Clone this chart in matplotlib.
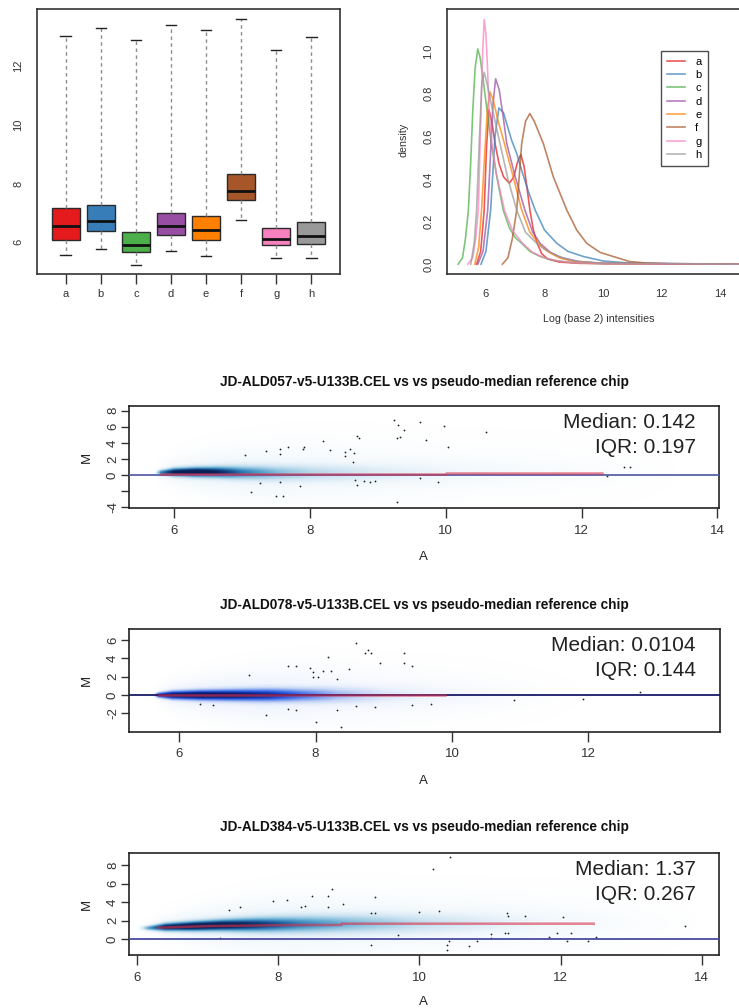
import numpy as np
import matplotlib
matplotlib.use("Agg")
import matplotlib.pyplot as plt
from matplotlib.colors import LinearSegmentedColormap

# ---------------- data ----------------
samples = ["a", "b", "c", "d", "e", "f", "g", "h"]
set1 = ["#E41A1C", "#377EB8", "#4DAF4A", "#984EA3", "#FF7F00", "#A65628", "#F781BF", "#999999"]

box_whislo = [5.57, 5.76, 5.24, 5.69, 5.54, 6.75, 5.48, 5.48]
box_q1 = [6.09, 6.37, 5.66, 6.24, 6.09, 7.42, 5.89, 5.93]
box_med = [6.54, 6.72, 5.92, 6.54, 6.41, 7.75, 6.11, 6.20]
box_q3 = [7.15, 7.26, 6.35, 7.01, 6.89, 8.31, 6.48, 6.68]
box_whishi = [13.01, 13.27, 12.87, 13.37, 13.20, 13.59, 12.52, 12.97]

dens_x_a = [5.68, 5.82, 5.94, 6.02, 6.10, 6.2, 6.31, 6.45, 6.6, 6.8, 6.95, 7.08, 7.19, 7.3, 7.4, 7.5, 7.62, 7.75, 7.9, 8.1, 8.5, 9.2, 15.3]
dens_y_a = [0.0, 0.06, 0.254, 0.55, 0.725, 0.67, 0.566, 0.47, 0.41, 0.38, 0.41, 0.48, 0.515, 0.46, 0.36, 0.254, 0.16, 0.098, 0.05, 0.025, 0.01, 0.004, 0.0]
dens_x_b = [5.83, 6.0, 6.16, 6.31, 6.44, 6.6, 6.88, 7.05, 7.22, 7.45, 7.68, 8.0, 8.42, 8.8, 9.33, 10.0, 11.0, 15.3]
dens_y_b = [0.0, 0.06, 0.254, 0.6, 0.733, 0.71, 0.58, 0.52, 0.44, 0.34, 0.254, 0.16, 0.098, 0.06, 0.036, 0.015, 0.004, 0.0]
dens_x_c = [5.05, 5.2, 5.3, 5.4, 5.48, 5.55, 5.63, 5.72, 5.8, 5.9, 6.04, 6.2, 6.37, 6.59, 6.8, 7.0, 7.22, 7.5, 7.85, 8.3, 9.0, 10.0, 15.3]
dens_y_c = [0.0, 0.03, 0.12, 0.254, 0.48, 0.72, 0.92, 1.01, 0.97, 0.87, 0.72, 0.55, 0.41, 0.254, 0.17, 0.125, 0.098, 0.06, 0.036, 0.018, 0.007, 0.002, 0.0]
dens_x_d = [5.72, 5.9, 6.06, 6.15, 6.24, 6.33, 6.45, 6.58, 6.71, 7.0, 7.33, 7.6, 7.85, 8.2, 8.6, 9.2, 10.0, 15.3]
dens_y_d = [0.0, 0.06, 0.254, 0.5, 0.75, 0.87, 0.82, 0.7, 0.566, 0.41, 0.254, 0.15, 0.098, 0.055, 0.03, 0.012, 0.004, 0.0]
dens_x_e = [5.62, 5.75, 5.85, 5.95, 6.05, 6.14, 6.25, 6.4, 6.63, 6.93, 7.22, 7.5, 7.79, 8.1, 8.5, 9.0, 10.0, 15.3]
dens_y_e = [0.0, 0.08, 0.254, 0.5, 0.73, 0.808, 0.77, 0.68, 0.566, 0.41, 0.254, 0.15, 0.098, 0.06, 0.03, 0.013, 0.003, 0.0]
dens_x_f = [6.56, 6.75, 6.9, 7.05, 7.22, 7.35, 7.50, 7.65, 7.8, 7.96, 8.3, 8.76, 9.1, 9.44, 9.9, 10.35, 10.9, 11.5, 12.5, 15.3]
dens_y_f = [0.0, 0.03, 0.12, 0.254, 0.566, 0.67, 0.707, 0.67, 0.62, 0.566, 0.41, 0.254, 0.16, 0.098, 0.055, 0.036, 0.0125, 0.005, 0.001, 0.0]
dens_x_g = [5.38, 5.55, 5.65, 5.74, 5.83, 5.89, 5.94, 6.0, 6.05, 6.11, 6.2, 6.35, 6.63, 6.9, 7.25, 7.6, 8.0, 8.5, 9.0, 10.0, 15.3]
dens_y_g = [0.0, 0.03, 0.12, 0.254, 0.72, 1.0, 1.148, 1.08, 0.93, 0.72, 0.57, 0.43, 0.254, 0.16, 0.098, 0.055, 0.03, 0.014, 0.007, 0.002, 0.0]
dens_x_h = [5.48, 5.6, 5.68, 5.78, 5.86, 5.94, 6.05, 6.2, 6.48, 6.75, 7.05, 7.35, 7.73, 8.0, 8.5, 9.0, 10.0, 15.3]
dens_y_h = [0.0, 0.1, 0.254, 0.6, 0.85, 0.90, 0.84, 0.74, 0.566, 0.4, 0.254, 0.15, 0.098, 0.07, 0.035, 0.015, 0.004, 0.0]

# MA plot 1 (JD-ALD057)
ma1_title = "JD-ALD057-v5-U133B.CEL vs vs pseudo-median reference chip"
ma1_median, ma1_iqr = "0.142", "0.197"
ma1_knot_A = [5.7, 5.8, 6.0, 6.3, 6.6, 7.0, 7.5, 8.0, 9.0, 10.0, 11.0, 12.5, 13.5]
ma1_center = [0.2, 0.25, 0.3, 0.3, 0.3, 0.25, 0.2, 0.2, 0.2, 0.25, 0.3, 0.3, 0.3]
ma1_core_int = [0.0, 0.6, 0.9, 1.0, 0.85, 0.55, 0.35, 0.25, 0.15, 0.1, 0.05, 0.02, 0.0]
ma1_core_sd = [0.15, 0.25, 0.35, 0.4, 0.45, 0.55, 0.65, 0.75, 0.9, 1.0, 1.0, 1.0, 1.0]
ma1_halo_int = [0.0, 0.07, 0.13, 0.16, 0.16, 0.16, 0.14, 0.11, 0.08, 0.05, 0.04, 0.015, 0.0]
ma1_halo_sd = [0.5, 0.8, 1.2, 1.5, 1.8, 2.0, 2.3, 2.5, 2.5, 2.5, 2.5, 2.5, 2.5]
ma1_loess_A = [5.8, 10.0, 10.0, 12.3]
ma1_loess_M = [0.08, 0.08, 0.29, 0.29]
ma1_pts_A = [7.05, 7.13, 7.27, 7.35, 7.5, 7.56, 7.56, 7.56, 7.6, 7.67, 7.85, 7.9, 7.92, 8.2, 8.3, 8.52, 8.52,
             8.59, 8.64, 8.65, 8.69, 8.72, 8.67, 8.69, 8.79, 8.89, 8.96, 9.24, 9.3, 9.29, 9.29, 9.38, 9.33,
             9.62, 9.71, 9.97, 10.03, 10.6, 9.62, 9.89, 12.62, 12.72, 12.37]
ma1_pts_M = [2.48, -2.07, -1.03, 2.98, -2.6, 3.23, 2.6, -0.9, -2.6, 3.48, -1.37, 3.2, 3.5, 4.27, 3.1, 2.85, 2.36,
             3.2, 1.57, 2.8, 4.9, 4.55, -0.6, -1.24, -0.75, -0.87, -0.75, 6.83, 6.2, 4.64, -3.3, 5.6, 4.76,
             6.6, 4.35, 6.09, 3.44, 5.38, -0.41, -0.83, 1.03, 1.03, -0.12]

# MA plot 2 (JD-ALD078)
ma2_title = "JD-ALD078-v5-U133B.CEL vs vs pseudo-median reference chip"
ma2_median, ma2_iqr = "0.0104", "0.144"
ma2_knot_A = [5.6, 5.7, 5.9, 6.3, 6.8, 7.3, 7.8, 8.3, 9.0, 10.0, 11.0, 12.0]
ma2_center = [0.0, 0.0, 0.0, 0.0, 0.0, 0.0, 0.0, 0.0, 0.0, 0.0, 0.0, 0.0]
ma2_core_int = [0.0, 0.8, 0.95, 1.0, 0.9, 0.75, 0.5, 0.3, 0.15, 0.06, 0.02, 0.0]
ma2_core_sd = [0.1, 0.2, 0.3, 0.35, 0.4, 0.45, 0.5, 0.6, 0.7, 0.8, 0.8, 0.8]
ma2_halo_int = [0.0, 0.07, 0.13, 0.16, 0.16, 0.16, 0.13, 0.1, 0.07, 0.04, 0.015, 0.0]
ma2_halo_sd = [0.3, 0.6, 1.0, 1.3, 1.6, 1.8, 2.0, 2.0, 2.0, 2.0, 2.0, 2.0]
ma2_loess_A = [5.7, 9.9]
ma2_loess_M = [0.04, 0.04]
ma2_pts_A = [7.03, 6.3, 6.5, 7.28, 7.6, 7.71, 7.6, 7.71, 7.92, 7.97, 7.97, 8.03, 8.0, 8.11, 8.19, 8.22, 8.31,
             8.31, 8.38, 8.49, 8.6, 8.6, 8.72, 8.77, 8.81, 8.87, 8.94, 9.29, 9.29, 9.41, 9.41, 9.7, 10.91, 11.92, 12.75]
ma2_pts_M = [2.15, -0.98, -1.09, -2.18, 3.16, 3.16, -1.5, -1.6, 2.9, 2.54, 2.0, 2.0, -2.9, 2.65, 4.18, 2.65, 1.71,
             -1.6, -3.45, 2.8, 5.7, -1.2, 4.55, 4.9, 4.55, -1.27, 3.45, 4.55, 3.45, 3.16, -1.09, -0.98, -0.55, -0.44, 0.36]

# MA plot 3 (JD-ALD384)
ma3_title = "JD-ALD384-v5-U133B.CEL vs vs pseudo-median reference chip"
ma3_median, ma3_iqr = "1.37", "0.267"
ma3_knot_A = [6.0, 6.15, 6.4, 6.8, 7.2, 7.7, 8.3, 9.0, 10.0, 11.0, 12.0, 13.0, 14.0]
ma3_center = [1.2, 1.2, 1.3, 1.4, 1.5, 1.55, 1.6, 1.65, 1.7, 1.75, 1.75, 1.75, 1.75]
ma3_core_int = [0.0, 0.5, 0.9, 1.0, 0.95, 0.75, 0.5, 0.35, 0.2, 0.12, 0.06, 0.02, 0.0]
ma3_core_sd = [0.15, 0.2, 0.3, 0.35, 0.4, 0.5, 0.6, 0.7, 0.8, 0.9, 0.9, 0.9, 0.9]
ma3_halo_int = [0.0, 0.05, 0.13, 0.18, 0.19, 0.19, 0.18, 0.15, 0.12, 0.09, 0.06, 0.025, 0.0]
ma3_halo_sd = [0.3, 0.5, 0.9, 1.2, 1.5, 1.8, 2.0, 2.0, 2.0, 2.0, 2.0, 2.0, 2.0]
ma3_loess_A = [6.3, 7.0, 8.0, 8.9, 8.9, 12.47]
ma3_loess_M = [1.25, 1.42, 1.52, 1.55, 1.68, 1.68]
ma3_pts_A = [7.17, 7.3, 7.46, 7.93, 8.13, 8.32, 8.38, 8.48, 8.71, 8.76, 8.71, 8.92, 9.32, 9.37, 9.37, 9.32, 9.7,
             10.43, 10.2, 10.0, 10.28, 10.42, 10.39, 10.39, 10.7, 10.82, 11.02, 11.02, 11.24, 11.26, 11.5, 11.21,
             11.26, 11.84, 11.95, 12.03, 12.09, 12.15, 12.39, 12.5, 13.76]
ma3_pts_M = [0.1, 3.15, 3.44, 4.16, 4.23, 3.5, 3.6, 4.66, 4.66, 5.45, 3.44, 3.77, 2.87, 2.87, 4.52, -0.61, 0.46,
             8.9, 7.6, 2.97, 3.08, -0.15, -0.61, -1.15, -0.69, -0.15, 0.54, 0.1, 2.86, 2.5, 2.5, 0.7,
             0.65, 0.28, 0.7, 2.43, -0.18, 0.65, -0.15, 0.28, 1.43]

# ---------------- figure ----------------
W, H = 739, 1008
fig = plt.figure(figsize=(W / 100, H / 100), dpi=100)
SANS = ["Liberation Sans", "DejaVu Sans"]
plt.rcParams["font.family"] = SANS


def px_axes(l, t, r, b):
    return fig.add_axes([l / W, 1 - b / H, (r - l) / W, (b - t) / H])


def ftext(x, y, s, **kw):
    fig.text(x / W, 1 - y / H, s, **kw)


# ---- boxplot ----
axb = px_axes(37, 9, 340, 274)
stats = []
for i in range(len(samples)):
    stats.append(dict(med=box_med[i], q1=box_q1[i], q3=box_q3[i],
                      whislo=box_whislo[i], whishi=box_whishi[i], fliers=[]))
bp = axb.bxp(stats, positions=range(1, len(samples) + 1), widths=0.8, patch_artist=True,
             showfliers=False, capwidths=0.3,
             boxprops=dict(edgecolor="#2a2a2a", linewidth=1.0),
             whiskerprops=dict(color="#8c8c8c", linestyle=(0, (2.5, 2.5)), linewidth=1.0),
             capprops=dict(color="#222222", linewidth=1.0),
             medianprops=dict(color="#111111", linewidth=2.0))
for patch, c in zip(bp["boxes"], set1):
    patch.set_facecolor(c)
axb.set_xlim(0.18, 8.82)
axb.set_ylim(4.92, 13.93)
axb.set_xticks(range(1, len(samples) + 1))
axb.set_xticklabels(samples)
axb.set_yticks([6, 8, 10, 12])
axb.set_yticklabels(["6", "8", "10", "12"], rotation=90, va="center")
axb.tick_params(axis="x", length=7, width=1, pad=4, labelsize=8, colors="#333333")
axb.tick_params(axis="y", length=0, pad=10, labelsize=8, colors="#333333")
for sp in axb.spines.values():
    sp.set_color("#333333")
    sp.set_linewidth(1.2)

# ---- density plot ----
axd = px_axes(447.3, 9.3, 751, 274)
dens_x = [dens_x_a, dens_x_b, dens_x_c, dens_x_d, dens_x_e, dens_x_f, dens_x_g, dens_x_h]
dens_y = [dens_y_a, dens_y_b, dens_y_c, dens_y_d, dens_y_e, dens_y_f, dens_y_g, dens_y_h]
handles = []
for xs, ys, c, lab in zip(dens_x, dens_y, set1, samples):
    ln, = axd.plot(xs, ys, color=c, alpha=0.72, lw=1.2, label=lab, solid_joinstyle="round")
    handles.append(ln)
axd.set_xlim(4.68, 15.05)
axd.set_ylim(-0.046, 1.196)
axd.set_xticks([6, 8, 10, 12, 14])
axd.set_yticks([0.0, 0.2, 0.4, 0.6, 0.8, 1.0])
axd.set_yticklabels(["0.0", "0.2", "0.4", "0.6", "0.8", "1.0"], rotation=90, va="center")
axd.tick_params(axis="x", length=0, pad=11, labelsize=8, colors="#333333")
axd.tick_params(axis="y", length=0, pad=10, labelsize=8, colors="#333333")
for sp in axd.spines.values():
    sp.set_color("#333333")
    sp.set_linewidth(1.2)
leg = axd.legend(handles=handles, loc="upper left", bbox_to_anchor=(0.7045, 0.844),
                 borderaxespad=0, frameon=True, fancybox=False, fontsize=8,
                 handlelength=1.6, handletextpad=0.9, labelspacing=0.3,
                 borderpad=0.55, edgecolor="#222222")
leg.get_frame().set_linewidth(1.0)
ftext(599, 319, "Log (base 2) intensities", ha="center", va="center", fontsize=7.7, color="#333333")
ftext(403, 140, "density", ha="center", va="center", rotation=90, fontsize=7.7, color="#333333")

# ---- MA plots ----
cmap_a = LinearSegmentedColormap.from_list("ss_a", ["#ffffff", "#f0f7fc", "#cfe4f2", "#98c9e2", "#58a2cd",
                                                   "#2a72ae", "#10427f", "#0a2158"])
cmap_b = LinearSegmentedColormap.from_list("ss_b", ["#ffffff", "#eef3fd", "#c8d7f6", "#8ba8f0", "#4d7ae6",
                                                   "#2150d8", "#0d2fa0", "#081a62"])


def ma_panel(box, title, median, iqr, xlim, ylim, yticks, ylabels, xticks,
             kA, kc, ci, cs, hi, hs, lA, lM, pA, pM, cmap, title_y, m_y, a_y, hl_color):
    l, t, r, b = box
    ax = px_axes(l, t, r, b)
    gx = np.linspace(xlim[0], xlim[1], 700)
    gy = np.linspace(ylim[0], ylim[1], 260)
    GX, GY = np.meshgrid(gx, gy)
    c = np.interp(gx, kA, kc, left=kc[0], right=kc[-1])
    i1 = np.interp(gx, kA, ci, left=0, right=0)
    s1 = np.interp(gx, kA, cs)
    i2 = np.interp(gx, kA, hi, left=0, right=0)
    s2 = np.interp(gx, kA, hs)
    Z = i1 * np.exp(-0.5 * ((GY - c) / s1) ** 2) + i2 * np.exp(-0.5 * ((GY - c) / s2) ** 2)
    ax.imshow(np.clip(Z, 0, 1), extent=(xlim[0], xlim[1], ylim[0], ylim[1]), origin="lower",
              aspect="auto", cmap=cmap, vmin=0, vmax=1, interpolation="bilinear", zorder=0)
    ax.plot(pA, pM, "o", ms=1.3, color="#222222", mew=0, zorder=2)
    ax.axhline(0, color=hl_color, lw=1.3, zorder=3)
    ax.plot(lA, lM, color="#d8304a", lw=1.8, alpha=0.6, zorder=4)
    ax.set_xlim(*xlim)
    ax.set_ylim(*ylim)
    ax.set_xticks(xticks)
    ax.set_xticklabels([str(v) for v in xticks])
    ax.set_yticks(yticks)
    ax.set_yticklabels(ylabels, rotation=90, va="center")
    ax.tick_params(axis="x", length=7, width=1, pad=5, labelsize=9.5, colors="#333333")
    ax.tick_params(axis="y", length=6, width=1, pad=1.5, labelsize=9.5, colors="#333333")
    for sp in ax.spines.values():
        sp.set_color("#222222")
        sp.set_linewidth(1.2)
    xr = (695.7 - l) / (r - l)
    ax.text(xr, 1 - 22 / (b - t), "Median: " + median, transform=ax.transAxes, ha="right",
            va="baseline", fontsize=15, color="#222222", zorder=5)
    ax.text(xr, 1 - 47 / (b - t), "IQR: " + iqr, transform=ax.transAxes, ha="right",
            va="baseline", fontsize=15, color="#222222", zorder=5)
    ftext((l + r) / 2, title_y, title, ha="center", va="center", fontsize=9.8, fontweight="bold",
          color="#111111")
    ftext(87, m_y, "M", ha="center", va="center", rotation=90, fontsize=9.5, color="#222222")
    ftext(423, a_y, "A", ha="center", va="center", fontsize=9.5, color="#222222")
    return ax


ma_panel((129.3, 406, 719, 508.3), ma1_title, ma1_median, ma1_iqr, (5.34, 14.025), (-4.12, 8.58),
         [-4, -2, 0, 2, 4, 6, 8], ["-4", "", "0", "2", "4", "6", "8"], [6, 8, 10, 12, 14],
         ma1_knot_A, ma1_center, ma1_core_int, ma1_core_sd, ma1_halo_int, ma1_halo_sd,
         ma1_loess_A, ma1_loess_M, ma1_pts_A, ma1_pts_M, cmap_a, 381.7, 457, 557, "#5a62a8")
ma_panel((129.3, 629.3, 720, 731.7), ma2_title, ma2_median, ma2_iqr, (5.27, 13.93), (-3.99, 7.16),
         [-2, 0, 2, 4, 6], ["-2", "0", "2", "4", "6"], [6, 8, 10, 12],
         ma2_knot_A, ma2_center, ma2_core_int, ma2_core_sd, ma2_halo_int, ma2_halo_sd,
         ma2_loess_A, ma2_loess_M, ma2_pts_A, ma2_pts_M, cmap_b, 605, 680, 780.7, "#1a1a6a")
ma_panel((129.3, 853.3, 719.3, 955), ma3_title, ma3_median, ma3_iqr, (5.89, 14.25), (-1.69, 9.26),
         [0, 2, 4, 6, 8], ["0", "2", "4", "6", "8"], [6, 8, 10, 12, 14],
         ma3_knot_A, ma3_center, ma3_core_int, ma3_core_sd, ma3_halo_int, ma3_halo_sd,
         ma3_loess_A, ma3_loess_M, ma3_pts_A, ma3_pts_M, cmap_a, 827.3, 904, 1002.3, "#4a4aa0")

fig.savefig("out.png", dpi=100, facecolor="white")
